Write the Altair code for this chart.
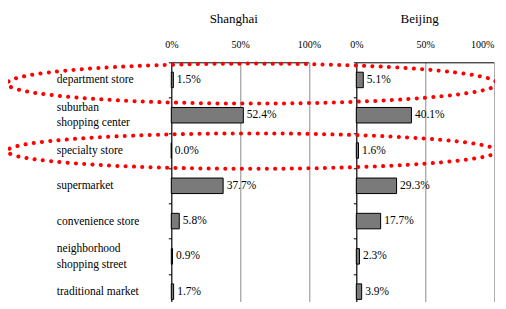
import altair as alt
import pandas as pd

categories = ["department store", "suburban|shopping center", "specialty store",
              "supermarket", "convenience store", "neighborhood|shopping street",
              "traditional market"]
shanghai = [1.5, 52.4, 0.0, 37.7, 5.8, 0.9, 1.7]
beijing = [5.1, 40.1, 1.6, 29.3, 17.7, 2.3, 3.9]
cities = ["Shanghai", "Beijing"]
x_ticks = [0, 0.5, 1.0]

FONT = "Liberation Serif"
W = 137.5
H = 247


def ell_path(b):
    k = 0.5523
    kb = round(k * b, 5)
    b = round(b, 5)
    return (f"M1,0 C1,{kb} {k},{b} 0,{b} C{-k},{b} -1,{kb} -1,0 "
            f"C-1,{-kb} {-k},{-b} 0,{-b} C{k},{-b} 1,{-kb} 1,0 Z")


A = 245.0
SIZE = (2 * A) ** 2
# (center offset from plot top in px, half-height in px)
ELLIPSES = [(21.3, 20.0), (88.8, 17.7)]


def panel(city, values, show_labels, title_x, ellipses, last_right):
    df = pd.DataFrame({
        "cat": categories,
        "share": [v / 100 for v in values],
        "label": [f"{v:.1f}%" for v in values],
    })
    base = alt.Chart(df)
    if show_labels:
        yaxis = alt.Axis(title=None, labelAlign="left", labelPadding=112,
                         labelFont=FONT, labelFontSize=11.5, labelLineHeight=15.5,
                         labelColor="black", labelBaseline="middle",
                         labelOffset={"condition": {"test": "indexof(datum.label, '|') >= 0",
                                                    "value": -7.75},
                                      "value": 0},
                         domainColor="black", tickColor="black", tickSize=3,
                         tickBand="extent", labelExpr="split(datum.label, '|')",
                         labelLimit=0)
    else:
        yaxis = alt.Axis(title=None, labels=False, domainColor="black",
                         tickColor="black", tickSize=3, tickBand="extent")
    y = alt.Y("cat:N", sort=categories,
              scale=alt.Scale(domain=categories, paddingInner=0, paddingOuter=0),
              axis=yaxis)
    xaxis_kw = dict(orient="top", values=x_ticks, format=".0%", title=None,
                    ticks=False, tickSize=0, labelPadding=13,
                    labelFontSize=10, labelFont=FONT, labelColor="black",
                    labelFlush=False, domainColor="black",
                    gridColor="#8c8c8c", grid=True)
    if last_right:
        xaxis_kw["labelAlign"] = {"condition": {"test": "datum.value >= 1", "value": "right"},
                                  "value": "center"}
    x = alt.X("share:Q", scale=alt.Scale(domain=[0, 1]), axis=alt.Axis(**xaxis_kw))
    bars = base.mark_bar(size=15.5, color="#7a7a7a", stroke="black",
                         strokeWidth=1).encode(x=x, y=y)
    text = base.mark_text(align="left", baseline="middle", dx=3.5, font=FONT,
                          fontSize=11.5, color="black").encode(
        x="share:Q", y=alt.Y("cat:N", sort=categories), text="label:N")
    title = alt.Chart(pd.DataFrame({"city": [city]})).mark_text(
        align="center", baseline="alphabetic", font=FONT, fontSize=13,
        color="black").encode(text="city:N", x=alt.value(title_x),
                              y=alt.value(-39.7))
    layers = [bars, text, title]
    if ellipses:
        for cy, b in ELLIPSES:
            e = alt.Chart(pd.DataFrame({"cat": ["x"]})).mark_point(
                shape=ell_path(b / A), size=SIZE, filled=False, stroke="red",
                strokeWidth=4, strokeDash=[0.1, 8.2], strokeCap="round",
                strokeJoin="round", opacity=1).encode(
                x=alt.value(253.3 - 357.5),
                y=alt.value(cy))
            layers.append(e)
    return alt.layer(*layers).properties(width=W, height=H)


sh = panel(cities[0], shanghai, True, 62.5, False, False)
bj = panel(cities[1], beijing, False, 63.3, True, True)

chart = alt.hconcat(sh, bj, spacing=47, bounds="flush").properties(
    padding={"left": -3.7, "top": 4.3, "right": -4.3, "bottom": -8}
).configure_view(strokeWidth=0)

chart.save("out.html", embed_options={"renderer": "svg", "actions": False})
